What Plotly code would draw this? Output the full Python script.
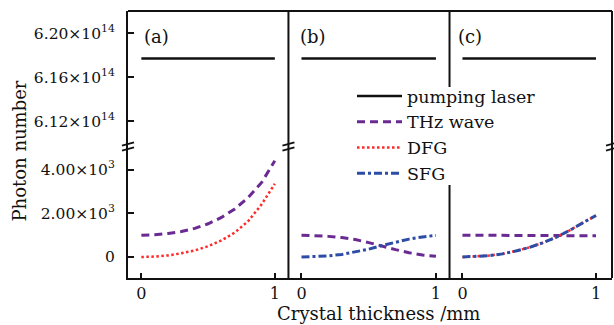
import plotly.graph_objects as go
from plotly.subplots import make_subplots

# ---------------- data ----------------
thickness = [0, 0.1, 0.2, 0.3, 0.4, 0.5, 0.6, 0.7, 0.8, 0.9, 1.0]
pump_x = [0, 1]
pump_level = [6.177e14, 6.177e14]

# panel (a)
thz_a = [1000, 1020, 1075, 1170, 1310, 1520, 1810, 2200, 2720, 3400, 4400]
dfg_a = [0, 20, 75, 170, 300, 490, 760, 1120, 1640, 2400, 3350]
# panel (b)
thz_b = [1000, 985, 945, 890, 800, 660, 490, 340, 200, 90, 35]
sfg_b = [0, 15, 55, 120, 230, 360, 530, 680, 820, 920, 990]
# panel (c)
thz_c = [1000, 998, 995, 992, 990, 987, 984, 981, 978, 975, 972]
dfg_c = [0, 20, 65, 145, 275, 440, 650, 900, 1210, 1560, 1900]
sfg_c = [0, 20, 65, 145, 275, 440, 650, 900, 1210, 1560, 1900]

top_ticks = [6.12e14, 6.16e14, 6.20e14]
top_ticktext = ["6.12×10<sup>14</sup>", "6.16×10<sup>14</sup>", "6.20×10<sup>14</sup>"]
low_ticks = [0, 2000, 4000]
low_ticktext = ["0", "2.00×10<sup>3</sup>", "4.00×10<sup>3</sup>"]
x_ticks = [0, 1]
x_ticktext = ["0", "1"]
panel_labels = ["(a)", "(b)", "(c)"]

# ---------------- styles ----------------
FONT = "DejaVu Serif"
BLACK = "#111111"
PURPLE = "#6a2a92"
RED = "#ff2a2a"
BLUE = "#2d4ca6"

W, H = 614, 325
ML, MR, MT, MB = 128, 2, 11, 47
PW = W - ML - MR
PH = H - MT - MB

def px_x(p):
    return (p - ML) / PW

def px_y(p):
    return (H - MB - p) / PH

col_edges = [0.0, 0.3315, 0.6643, 1.0]
row_split = 0.4925

fig = make_subplots(rows=2, cols=3, horizontal_spacing=0, vertical_spacing=0)

pump_line = dict(color=BLACK, width=2.5)
thz_line = dict(color=PURPLE, width=3, dash="8px,5px")
dfg_line = dict(color=RED, width=2.5, dash="2.5px,2.5px")
sfg_line = dict(color=BLUE, width=3, dash="8px,3px,3px,3px")

for c in range(1, 4):
    fig.add_trace(go.Scatter(x=pump_x, y=pump_level, mode="lines", line=pump_line,
                             name="pumping laser", legendgroup="pump", legendrank=1,
                             showlegend=(c == 1)), row=1, col=c)

fig.add_trace(go.Scatter(x=thickness, y=thz_a, mode="lines", line=thz_line, name="THz wave",
                         legendgroup="thz", legendrank=2, showlegend=True), row=2, col=1)
fig.add_trace(go.Scatter(x=thickness, y=dfg_a, mode="lines", line=dfg_line, name="DFG",
                         legendgroup="dfg", legendrank=3, showlegend=True), row=2, col=1)
fig.add_trace(go.Scatter(x=thickness, y=thz_b, mode="lines", line=thz_line, name="THz wave",
                         legendgroup="thz", showlegend=False), row=2, col=2)
fig.add_trace(go.Scatter(x=thickness, y=sfg_b, mode="lines", line=sfg_line, name="SFG",
                         legendgroup="sfg", legendrank=4, showlegend=True), row=2, col=2)
fig.add_trace(go.Scatter(x=thickness, y=thz_c, mode="lines", line=thz_line, name="THz wave",
                         legendgroup="thz", showlegend=False), row=2, col=3)
fig.add_trace(go.Scatter(x=thickness, y=dfg_c, mode="lines", line=dfg_line, name="DFG",
                         legendgroup="dfg", showlegend=False), row=2, col=3)
fig.add_trace(go.Scatter(x=thickness, y=sfg_c, mode="lines", line=sfg_line, name="SFG",
                         legendgroup="sfg", showlegend=False), row=2, col=3)

x_ranges = [[-0.1, 1.102], [-0.097, 1.101], [-0.097, 1.12]]
tickfont = dict(family=FONT, size=15.5, color=BLACK)

for c in range(1, 4):
    dom = [col_edges[c - 1], col_edges[c]]
    # top row x
    fig.update_xaxes(row=1, col=c, domain=dom, range=x_ranges[c - 1], showgrid=False,
                     zeroline=False, showticklabels=False, ticks="", showline=False)
    # bottom row x
    fig.update_xaxes(row=2, col=c, domain=dom, range=x_ranges[c - 1], showgrid=False,
                     zeroline=False, showline=True, linecolor=BLACK, linewidth=2,
                     ticks="inside", ticklen=5, tickwidth=1.5, tickcolor=BLACK,
                     tickvals=x_ticks, ticktext=x_ticktext,
                     tickfont=dict(family=FONT, size=16, color=BLACK))
    # top row y
    fig.update_yaxes(row=1, col=c, domain=[row_split, 1], range=[6.0968e14, 6.2204e14],
                     showgrid=False, zeroline=False,
                     showline=(c == 1), linecolor=BLACK, linewidth=2,
                     ticks="inside" if c == 1 else "", ticklen=6, tickwidth=1.5, tickcolor=BLACK,
                     tickvals=top_ticks, ticktext=top_ticktext,
                     showticklabels=(c == 1), tickfont=tickfont, ticklabelstandoff=8)
    # bottom row y
    fig.update_yaxes(row=2, col=c, domain=[0, row_split], range=[-959, 5055],
                     showgrid=False, zeroline=False,
                     showline=(c == 1), linecolor=BLACK, linewidth=2,
                     ticks="inside" if c == 1 else "", ticklen=6, tickwidth=1.5, tickcolor=BLACK,
                     tickvals=low_ticks, ticktext=low_ticktext,
                     showticklabels=(c == 1), tickfont=tickfont, ticklabelstandoff=8)

shapes = []
frame = dict(color=BLACK, width=2)
# top border and right border
shapes.append(dict(type="line", xref="paper", yref="paper", x0=0, x1=1, y0=1, y1=1, line=frame))
shapes.append(dict(type="line", xref="paper", yref="paper", x0=1, x1=1, y0=0, y1=1, line=frame))
# divider a|b
shapes.append(dict(type="line", xref="paper", yref="paper", x0=col_edges[1], x1=col_edges[1],
                   y0=0, y1=1, line=frame))
# divider b|c, interrupted by legend
shapes.append(dict(type="line", xref="paper", yref="paper", x0=col_edges[2], x1=col_edges[2],
                   y0=px_y(87), y1=1, line=frame))
shapes.append(dict(type="line", xref="paper", yref="paper", x0=col_edges[2], x1=col_edges[2],
                   y0=0, y1=px_y(185), line=frame))
# break marks
for xe in [0.0, col_edges[1], 1.0]:
    for (ya, yb) in [(0.8, 4.2), (-4.2, -0.8)]:
        shapes.append(dict(type="line", xref="paper", yref="paper",
                           xsizemode="pixel", ysizemode="pixel",
                           xanchor=xe, yanchor=row_split,
                           x0=-6, x1=6, y0=ya, y1=yb, line=dict(color=BLACK, width=1.8)))

annotations = []
for lbl, xp in zip(panel_labels, [142, 298, 456]):
    annotations.append(dict(text=lbl, xref="paper", yref="paper", x=px_x(xp), y=px_y(36),
                            xanchor="left", yanchor="middle", showarrow=False,
                            font=dict(family=FONT, size=18, color=BLACK)))
annotations.append(dict(text="Crystal thickness /mm", xref="paper", yref="paper",
                        x=px_x(378), y=px_y(313), xanchor="center", yanchor="middle",
                        showarrow=False, font=dict(family=FONT, size=18, color=BLACK)))
annotations.append(dict(text="Photon number", xref="paper", yref="paper",
                        x=px_x(18.5), y=px_y(151), xanchor="center", yanchor="middle",
                        textangle=-90, showarrow=False,
                        font=dict(family=FONT, size=18, color=BLACK)))

fig.update_layout(
    width=W, height=H,
    margin=dict(l=ML, r=MR, t=MT, b=MB),
    paper_bgcolor="white", plot_bgcolor="white",
    shapes=shapes, annotations=annotations,
    showlegend=True,
    legend=dict(x=px_x(352), y=px_y(78), xanchor="left", yanchor="top",
                bgcolor="rgba(0,0,0,0)", borderwidth=0, itemwidth=45,
                font=dict(family=FONT, size=17.5, color=BLACK),
                tracegroupgap=0),
)

fig.write_html("out.html")
